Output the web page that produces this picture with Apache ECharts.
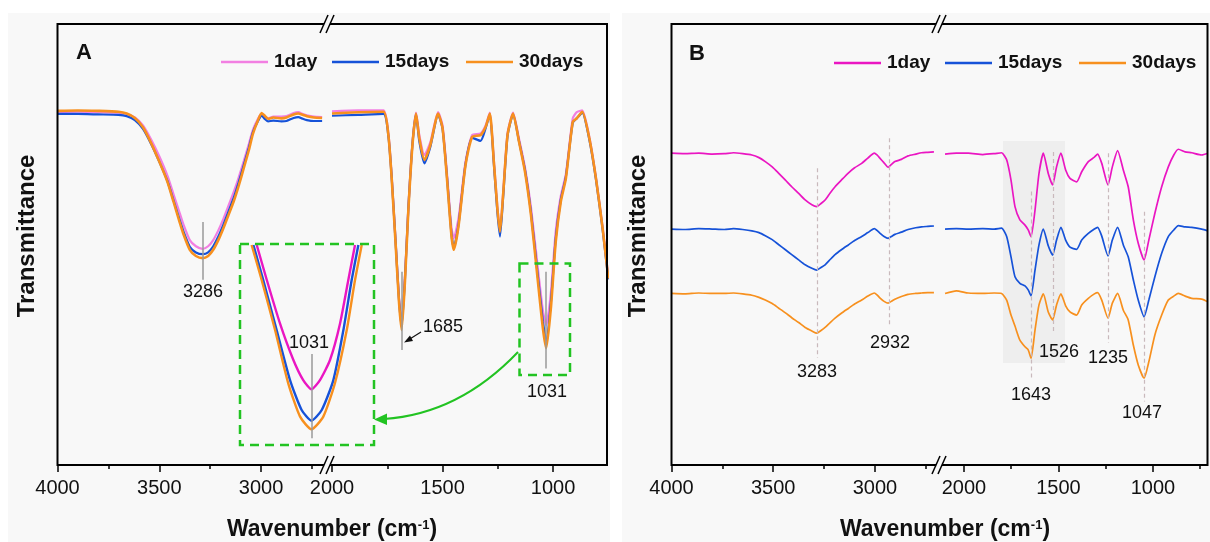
<!DOCTYPE html>
<html>
<head>
<meta charset="utf-8">
<title>FTIR spectra</title>
<script src="https://cdn.jsdelivr.net/npm/echarts@6/dist/echarts.min.js"></script>
<style>
  html, body { margin: 0; padding: 0; background: #fff; }
  #main { width: 1210px; height: 542px; }
</style>
</head>
<body>
<div id="main"></div>
<script>
// ---- data (wavenumber in cm-1, transmittance in arbitrary units 0-100) ----
// panel A, left part of the broken axis
var wnALeft = [4000, 3900, 3800, 3700, 3660, 3620, 3580, 3540, 3500, 3460, 3430, 3400, 3380, 3350, 3320, 3287, 3260, 3235, 3210, 3185, 3160, 3135, 3110, 3085, 3060, 3040, 3015, 2997, 2980, 2965, 2940, 2900, 2875, 2840, 2817, 2795, 2775, 2740, 2700];
var aLeft1 = [80.0, 80.1, 80.0, 79.9, 79.6, 78.8, 77.0, 73.8, 70.0, 65.6, 61.4, 57.2, 54.4, 51.0, 49.6, 49.0, 49.6, 51.0, 53.2, 55.8, 58.8, 61.8, 65.2, 68.9, 72.8, 76.0, 78.5, 79.6, 79.0, 78.6, 79.0, 79.0, 79.1, 79.8, 80.0, 79.6, 79.3, 79.0, 78.9];
var aLeft15 = [79.6, 79.6, 79.5, 79.4, 79.1, 78.2, 76.2, 72.8, 68.8, 64.4, 60.0, 55.6, 52.8, 49.5, 48.2, 47.8, 48.2, 49.6, 51.8, 54.5, 57.5, 60.5, 64.1, 68.0, 72.0, 75.5, 78.0, 79.2, 78.4, 77.9, 78.1, 77.9, 78.0, 78.7, 78.9, 78.5, 78.2, 78.0, 78.0];
var aLeft30 = [80.3, 80.4, 80.3, 80.1, 79.7, 78.7, 76.6, 73.0, 68.8, 64.2, 59.7, 55.1, 52.2, 48.8, 47.4, 46.9, 47.4, 48.8, 51.0, 53.7, 56.7, 59.7, 63.3, 67.3, 71.4, 75.1, 78.2, 79.8, 79.1, 78.5, 78.8, 78.6, 78.8, 79.5, 79.7, 79.4, 79.1, 78.8, 78.7];

// panel A, right part
var wnARight = [2000, 1880, 1767, 1745, 1730, 1712, 1697, 1685, 1670, 1655, 1636, 1620, 1605, 1582, 1555, 1520, 1500, 1480, 1460, 1449, 1427, 1396, 1366, 1328, 1305, 1286, 1268, 1252, 1240, 1226, 1206, 1181, 1154, 1127, 1100, 1070, 1046, 1031, 1010, 988, 965, 942, 911, 893, 868, 836, 806, 776, 750];
var aRight1 = [80.2, 80.4, 80.4, 75.2, 65.6, 50.6, 38.0, 32.5, 42.8, 58.0, 73.0, 79.9, 74.8, 70.3, 73.2, 80.0, 77.0, 66.2, 54.0, 51.4, 56.2, 68.8, 74.8, 75.2, 77.0, 79.9, 69.2, 58.6, 53.2, 61.6, 75.2, 79.9, 74.0, 67.5, 58.5, 45.2, 35.0, 31.7, 39.0, 53.0, 61.0, 66.0, 78.6, 80.0, 80.4, 74.4, 65.2, 54.0, 42.6];
var aRight15 = [79.2, 79.4, 79.6, 74.6, 65.2, 50.3, 37.5, 31.4, 42.2, 57.8, 72.8, 79.5, 73.4, 68.4, 72.2, 79.5, 76.2, 65.4, 52.6, 49.2, 54.8, 68.2, 74.2, 73.5, 76.4, 79.5, 68.4, 57.4, 51.8, 60.6, 74.6, 79.5, 73.4, 66.9, 57.3, 43.4, 32.6, 28.0, 36.8, 51.4, 60.2, 65.4, 77.6, 78.6, 79.9, 73.8, 64.8, 53.5, 42.1];
var aRight30 = [79.7, 80.0, 80.1, 74.8, 65.0, 49.9, 37.0, 30.6, 41.6, 57.4, 72.6, 79.7, 74.1, 69.2, 72.6, 79.7, 76.4, 65.0, 52.2, 48.8, 54.4, 68.0, 74.4, 74.8, 76.7, 79.7, 68.8, 58.2, 52.9, 61.2, 74.8, 79.7, 73.3, 66.5, 56.7, 42.3, 31.0, 26.5, 35.5, 50.6, 59.7, 65.0, 77.8, 78.6, 80.1, 74.1, 65.0, 53.7, 42.3];

// panel A, enlarged 1031 band (inset)
var wnInset1 = [1055.5, 1051.0, 1045.1, 1039.1, 1034.7, 1031, 1027.2, 1022.7, 1018.2, 1014.5, 1011.5];
var inset1 = [99.5, 82.1, 60.5, 42.3, 32.3, 27.7, 32.3, 42.3, 60.5, 82.1, 99.5];
var wnInset15 = [1057.0, 1052.6, 1046.6, 1040.6, 1035.4, 1031, 1026.4, 1021.2, 1016.7, 1013.0, 1010.0];
var inset15 = [99.5, 82.1, 57.2, 32.3, 17.4, 12.1, 17.4, 32.3, 57.2, 82.1, 99.5];
var wnInset30 = [1057.8, 1053.3, 1047.3, 1041.4, 1036.1, 1031, 1025.7, 1020.5, 1015.2, 1011.5, 1008.5];
var inset30 = [99.5, 82.1, 57.2, 30.7, 14.1, 7.8, 14.1, 30.7, 57.2, 82.1, 99.5];

// panel B, left part (curves are stacked with offsets)
var wnBLeft = [4000, 3935, 3866, 3800, 3740, 3695, 3650, 3605, 3570, 3539, 3505, 3474, 3440, 3409, 3375, 3343, 3310, 3286, 3265, 3245, 3220, 3196, 3165, 3131, 3100, 3065, 3035, 3003, 2990, 2976, 2955, 2935, 2920, 2902, 2870, 2837, 2800, 2771, 2740, 2710];
var bLeft1 = [70.7, 70.6, 70.7, 70.5, 70.6, 70.8, 70.6, 70.3, 69.7, 68.8, 67.6, 66.2, 64.6, 63.1, 61.6, 60.1, 59.0, 58.6, 59.3, 60.1, 61.7, 63.1, 64.6, 66.2, 67.4, 68.4, 69.6, 70.7, 70.3, 69.6, 68.5, 67.5, 68.1, 68.8, 69.3, 70.1, 70.5, 70.8, 70.9, 71.0];
var bLeft15 = [53.5, 53.4, 53.6, 53.5, 53.4, 53.6, 53.4, 53.1, 52.7, 52.0, 51.1, 50.0, 48.8, 47.7, 46.5, 45.4, 44.6, 44.2, 44.8, 45.4, 46.6, 47.7, 48.8, 49.9, 50.9, 51.8, 52.7, 53.6, 53.2, 52.6, 51.8, 51.4, 51.8, 52.3, 52.8, 53.4, 53.8, 54.0, 54.1, 54.2];
var bLeft30 = [38.9, 38.8, 39.0, 38.9, 38.9, 39.0, 38.8, 38.5, 38.0, 37.4, 36.6, 35.6, 34.5, 33.4, 32.3, 31.2, 30.4, 29.9, 30.5, 31.2, 32.3, 33.3, 34.4, 35.5, 36.5, 37.4, 38.3, 39.0, 38.6, 37.9, 37.1, 36.7, 37.1, 37.6, 38.2, 38.7, 38.9, 39.0, 39.1, 39.1];

// panel B, right part
var wnBRight = [2100, 2040, 1977, 1900, 1840, 1801, 1774, 1751, 1730, 1704, 1677, 1660, 1645, 1624, 1603, 1580, 1554, 1531, 1510, 1487, 1462, 1439, 1404, 1377, 1342, 1310, 1293, 1271, 1238, 1215, 1187, 1157, 1131, 1104, 1078, 1047, 1022, 990, 954, 919, 890, 866, 830, 795, 742, 710];
var bRight1 = [70.5, 70.7, 70.7, 70.4, 70.6, 70.8, 69.2, 64.6, 58.6, 55.6, 54.4, 53.3, 51.8, 57.8, 66.1, 70.7, 66.1, 63.5, 67.6, 70.7, 66.9, 65.0, 64.2, 66.5, 68.8, 69.8, 70.5, 68.4, 63.5, 67.6, 71.3, 66.9, 63.1, 55.6, 50.3, 46.5, 51.0, 57.1, 63.1, 67.6, 70.3, 71.6, 71.0, 70.8, 70.3, 70.7];
var bRight15 = [53.5, 53.6, 53.5, 53.6, 53.5, 53.7, 51.8, 47.2, 42.7, 41.2, 40.6, 39.7, 38.4, 44.2, 49.9, 53.5, 49.7, 47.6, 51.0, 53.9, 51.0, 49.4, 48.9, 51.0, 52.5, 53.5, 53.9, 51.9, 47.4, 51.0, 53.9, 49.9, 47.2, 42.0, 37.4, 33.6, 37.4, 42.7, 48.0, 51.8, 53.3, 54.3, 54.0, 53.9, 53.5, 53.1];
var bRight30 = [38.9, 39.5, 39.0, 38.9, 39.0, 38.9, 37.4, 34.0, 31.5, 28.3, 26.8, 26.1, 24.2, 30.6, 36.3, 38.8, 34.7, 32.9, 36.3, 38.8, 36.1, 34.7, 34.0, 36.3, 37.8, 38.8, 39.1, 37.4, 33.3, 36.7, 38.9, 35.1, 32.9, 27.2, 22.7, 19.7, 23.4, 29.5, 34.0, 37.4, 38.3, 38.9, 38.3, 37.8, 37.6, 37.0];

// tick values
var majorLeft = [4000, 3500, 3000];
var minorLeft = [3750, 3250, 2750];
var majorRight = [2000, 1500, 1000];
var minorRightA = [1750, 1250];
var minorRightB = [1750, 1250, 750];

var seriesNames = ['1day', '15days', '30days'];

// ---- styling ----
var FONT = 'Arial, "Liberation Sans", sans-serif';
var PINK_A = '#f27fe2';
var PINK_B = '#ea16c2';
var BLUE = '#1652d8';
var ORANGE = '#f7901e';
var GREEN = '#22c322';

function pairs(xs, ys) {
  return xs.map(function (x, i) { return [x, ys[i]]; });
}

function curve(name, xi, yi, xs, ys, color, width) {
  return {
    name: name, type: 'line', xAxisIndex: xi, yAxisIndex: yi,
    data: pairs(xs, ys), showSymbol: false, symbol: 'none', smooth: 0.2,
    lineStyle: { color: color, width: width }, itemStyle: { color: color },
    silent: true, animation: false
  };
}

// vertical marker lines kept in data space
function vlines(list, style) {
  return {
    symbol: ['none', 'none'], silent: true, animation: false,
    label: { show: false }, lineStyle: style,
    data: list.map(function (d) { return [{ coord: [d[0], d[1]] }, { coord: [d[0], d[2]] }]; })
  };
}

function mainX(grid, min, max, major) {
  return {
    type: 'value', gridIndex: grid, inverse: true, min: min, max: max, position: 'bottom',
    axisLine: { show: false }, splitLine: { show: false },
    axisTick: { show: true, inside: false, length: 7, customValues: major, lineStyle: { color: '#000', width: 1.5 } },
    axisLabel: { show: true, customValues: major, margin: 13, fontSize: 20, color: '#111', fontFamily: FONT,
      formatter: function (v) { return String(v); } }
  };
}
function minorX(grid, min, max, minor) {
  return {
    type: 'value', gridIndex: grid, inverse: true, min: min, max: max, position: 'bottom',
    axisLine: { show: false }, splitLine: { show: false },
    axisTick: { show: true, inside: false, length: 4, customValues: minor, lineStyle: { color: '#000', width: 1.5 } },
    axisLabel: { show: false }
  };
}
function hiddenY(grid) {
  return { type: 'value', gridIndex: grid, min: 0, max: 100, show: false };
}

// graphic helpers
function txt(x, y, s, size, weight, extra) {
  var el = {
    type: 'text', x: x, y: y, z: 100, silent: true,
    style: { text: s, fill: '#111', fontSize: size, fontWeight: weight || 'normal', fontFamily: FONT, align: 'center', verticalAlign: 'middle' }
  };
  if (extra) { for (var k in extra) el[k] = extra[k]; }
  return el;
}
function seg(x1, y1, x2, y2, color, w, dash) {
  return { type: 'line', z: 100, silent: true, shape: { x1: x1, y1: y1, x2: x2, y2: y2 },
    style: { stroke: color, lineWidth: w, lineDash: dash || null } };
}
function breakMark(cx, cy) {
  return [
    { type: 'polygon', z: 99, silent: true, shape: { points: [[cx - 4.5, cy + 2.5], [cx + 1.5, cy + 2.5], [cx + 4.5, cy - 2.5], [cx - 1.5, cy - 2.5]] }, style: { fill: '#f8f8f8' } },
    seg(cx - 7, cy + 9, cx + 1, cy - 9, '#000', 1.5),
    seg(cx - 1, cy + 9, cx + 7, cy - 9, '#000', 1.5)
  ];
}
function legend(x0, y, colors) {
  var out = [];
  var xs = x0;
  var gaps = [58, 81, 80];
  for (var i = 0; i < 3; i++) {
    out.push(seg(xs, y, xs + 47, y, colors[i], 2.5));
    var lx = xs + 53;
    out.push({ type: 'text', x: lx, y: y, z: 100, silent: true,
      style: { text: seriesNames[i], fill: '#111', fontSize: 19, fontWeight: 'bold', fontFamily: FONT, align: 'left', verticalAlign: 'middle' } });
    xs = lx + gaps[i];
  }
  return out;
}
function xTitle(cx) {
  return { type: 'text', x: cx, y: 530, z: 100, silent: true,
    style: { text: 'Wavenumber (cm{sup|-1})', fill: '#111', fontSize: 23, fontWeight: 'bold', fontFamily: FONT, align: 'center', verticalAlign: 'middle',
      rich: { sup: { fontSize: 13, fontWeight: 'bold', fontFamily: FONT, fill: '#111', verticalAlign: 'top' } } } };
}

var grayLine = { color: '#9a9a9a', width: 1.5, type: 'solid' };
var dashLine = { color: '#c9b9bc', width: 1.2, type: [4, 3] };

var chart = echarts.init(document.getElementById('main'), null, { renderer: 'canvas' });

var sA1 = curve('1day', 0, 0, wnALeft, aLeft1, PINK_A, 2.2);
var sA15 = curve('15days', 0, 0, wnALeft, aLeft15, BLUE, 2.2);
var sA30 = curve('30days', 0, 0, wnALeft, aLeft30, ORANGE, 2.6);
sA30.markLine = vlines([[3286, 55.1, 42.0]], grayLine);

var sAR1 = curve('1day', 2, 1, wnARight, aRight1, PINK_A, 2.2);
var sAR15 = curve('15days', 2, 1, wnARight, aRight15, BLUE, 2.2);
var sAR30 = curve('30days', 2, 1, wnARight, aRight30, ORANGE, 2.6);
sAR30.markLine = vlines([[1685, 43.8, 26.1], [1031, 43.8, 21.9]], grayLine);

var sI1 = curve('1day', 4, 2, wnInset1, inset1, PINK_B, 2.4);
var sI15 = curve('15days', 4, 2, wnInset15, inset15, BLUE, 2.4);
var sI30 = curve('30days', 4, 2, wnInset30, inset30, ORANGE, 2.4);
sI30.markLine = vlines([[1031, 45.3, 3.3]], grayLine);

var sB1 = curve('1day', 5, 3, wnBLeft, bLeft1, PINK_B, 1.7);
var sB15 = curve('15days', 5, 3, wnBLeft, bLeft15, BLUE, 1.7);
var sB30 = curve('30days', 5, 3, wnBLeft, bLeft30, ORANGE, 1.7);
sB30.markLine = vlines([[3283, 67.3, 24.3], [2932, 74.1, 31.3]], dashLine);

var sBR1 = curve('1day', 7, 4, wnBRight, bRight1, PINK_B, 1.7);
var sBR15 = curve('15days', 7, 4, wnBRight, bRight15, BLUE, 1.7);
var sBR30 = curve('30days', 7, 4, wnBRight, bRight30, ORANGE, 1.7);
sBR30.markLine = vlines([[1643, 62.0, 19.7], [1526, 71.0, 29.9], [1235, 70.7, 27.7], [1047, 57.4, 14.4]], dashLine);

var graphics = [
  // figure backgrounds
  { type: 'rect', z: -10, silent: true, shape: { x: 8, y: 13, width: 602, height: 529 }, style: { fill: '#f8f8f8' } },
  { type: 'rect', z: -10, silent: true, shape: { x: 622, y: 13, width: 588, height: 529 }, style: { fill: '#f8f8f8' } },
  // highlighted band in B
  { type: 'rect', z: -5, silent: true, shape: { x: 1003, y: 141, width: 62, height: 222 }, style: { fill: 'rgba(0,0,0,0.04)' } },
  // frames
  { type: 'rect', z: 98, silent: true, shape: { x: 57.5, y: 24, width: 549.5, height: 441 }, style: { fill: 'none', stroke: '#000', lineWidth: 2 } },
  { type: 'rect', z: 98, silent: true, shape: { x: 671.5, y: 24, width: 536, height: 441 }, style: { fill: 'none', stroke: '#000', lineWidth: 2 } },
  // panel letters
  txt(84, 53, 'A', 22, 'bold'),
  txt(697, 54, 'B', 22, 'bold'),
  // axis titles
  txt(27, 236, 'Transmittance', 24, 'bold', { rotation: Math.PI / 2 }),
  txt(638, 236, 'Transmittance', 24, 'bold', { rotation: Math.PI / 2 }),
  xTitle(332),
  xTitle(945),
  // peak labels, panel A
  txt(203, 292, '3286', 18),
  txt(443, 327, '1685', 18),
  txt(547, 392, '1031', 18),
  txt(309, 343, '1031', 18),
  // arrow to 1685
  seg(421, 332, 409, 339.5, '#111', 1.2),
  { type: 'polygon', z: 100, silent: true, shape: { points: [[404, 342.5], [410, 335.5], [413, 341]] }, style: { fill: '#111' } },
  // green dashed boxes and arrow
  { type: 'rect', z: 100, silent: true, shape: { x: 519.5, y: 263.5, width: 50.5, height: 111.5 }, style: { fill: 'none', stroke: GREEN, lineWidth: 2.5, lineDash: [9, 6] } },
  { type: 'rect', z: 100, silent: true, shape: { x: 240, y: 244, width: 134, height: 201 }, style: { fill: 'none', stroke: GREEN, lineWidth: 2.5, lineDash: [9, 6] } },
  { type: 'bezierCurve', z: 100, silent: true, shape: { x1: 518, y1: 352, x2: 384, y2: 419, cpx1: 459, cpy1: 414 }, style: { fill: 'none', stroke: GREEN, lineWidth: 2 } },
  { type: 'polygon', z: 100, silent: true, shape: { points: [[374, 419.5], [387, 413.5], [387, 425]] }, style: { fill: GREEN } },
  // peak labels, panel B
  txt(817, 372, '3283', 18),
  txt(890, 343, '2932', 18),
  txt(1031, 395, '1643', 18),
  txt(1059, 352, '1526', 18),
  txt(1108, 358, '1235', 18),
  txt(1142, 413, '1047', 18)
];
graphics = graphics
  .concat(breakMark(327, 24)).concat(breakMark(327, 465))
  .concat(breakMark(939, 24)).concat(breakMark(939, 465))
  .concat(legend(221, 62, [PINK_A, BLUE, ORANGE]))
  .concat(legend(834, 63, [PINK_B, BLUE, ORANGE]));

var option = {
  backgroundColor: '#ffffff',
  animation: false,
  textStyle: { fontFamily: FONT },
  grid: [
    { left: 57.5, top: 24, width: 269.5, height: 441 },
    { left: 332, top: 24, width: 275, height: 441 },
    { left: 240, top: 244, width: 134, height: 201 },
    { left: 671.5, top: 24, width: 266.5, height: 441 },
    { left: 942, top: 24, width: 266, height: 441 }
  ],
  xAxis: [
    mainX(0, 2676, 4000, majorLeft),
    minorX(0, 2676, 4000, minorLeft),
    mainX(1, 756, 2000, majorRight),
    minorX(1, 756, 2000, minorRightA),
    { type: 'value', gridIndex: 2, inverse: true, min: 1003, max: 1063, show: false },
    mainX(3, 2690, 4000, majorLeft),
    minorX(3, 2690, 4000, minorLeft),
    mainX(4, 709, 2116, majorRight),
    minorX(4, 709, 2116, minorRightB)
  ],
  yAxis: [hiddenY(0), hiddenY(1), hiddenY(2), hiddenY(3), hiddenY(4)],
  series: [sA1, sA15, sA30, sAR1, sAR15, sAR30, sI1, sI15, sI30, sB1, sB15, sB30, sBR1, sBR15, sBR30],
  graphic: { elements: graphics }
};

chart.setOption(option);
</script>
</body>
</html>
